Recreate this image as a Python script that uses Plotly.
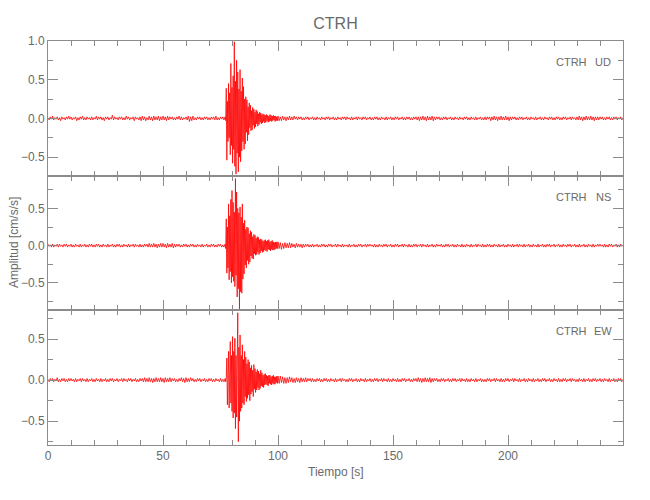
import plotly.graph_objects as go
from plotly.subplots import make_subplots

STATION = "CTRH"
COMPONENTS = ["UD", "NS", "EW"]
X_TITLE = "Tiempo [s]"
Y_TITLE = "Amplitud [cm/s/s]"
X_TICKS = [0, 50, 100, 150, 200]
X_RANGE = [0, 250]
Y_RANGES = {"UD": [-0.74, 1.0], "NS": [-0.87, 0.94], "EW": [-0.79, 0.85]}

# sampling (s) and segment start times
DT_NOISE = 0.5
DT_EVENT = 0.25
T_PRE = 0.0
T_EVENT = 77.0
T_POST = 100.0

# amplitudes, in hundredths of cm/s/s
UD_PRE = [
    1,-2,2,-1,3,-2,1,-1,2,-2,1,-3,2,-1,1,-2,2,-1,3,-1,
    2,-2,1,-1,2,-3,1,-2,2,-1,3,-2,1,-2,2,-1,1,-2,2,-2,
    1,-1,3,-2,2,-1,2,-2,1,-3,2,-1,2,-2,1,-1,4,-2,2,-1,
    1,-2,2,-1,2,-2,1,-2,3,-1,2,-2,1,-1,2,-3,2,-1,1,-2,
    2,-3,3,-2,2,-3,1,-2,3,-2,2,-3,3,-2,2,-2,3,-3,2,-2,
    3,-2,2,-3,3,-2,2,-1,2,-2,1,-2,2,-1,3,-2,2,-2,1,-1,
    2,-2,3,-4,2,-3,3,-2,1,-2,2,-1,2,-2,1,-2,2,-1,2,-2,
    1,-2,2,-1,2,-2,3,-2,1,-2,2,-1,2,-2,
]
UD_EVENT = [
    2,-3,39,-54, 22,-30,45,-25, 33,-47,71,-35, 40,-58,55,-40,
    99,-62,48,-72, 75,-45,60,-69, 38,-50,63,-56, 35,-42,52,-30,
    41,-40,25,-33, 28,-18,24,-29, 15,-21,20,-12, 17,-16,10,-15,
    14,-9,12,-13, 8,-11,11,-7, 9,-10,6,-8, 8,-5,7,-7,
    5,-6,6,-4, 5,-6,4,-5, 5,-3,4,-5, 3,-4,5,-3,
    4,-4,3,-3, 4,-2,3,-4, 3,-3,2,-3,
]
UD_POST = [
    3,-3,2,-3,3,-2,2,-3,2,-2,3,-2,2,-2,3,-1,2,-2,2,-1,
    2,-2,1,-2,2,-1,2,-2,1,-1,2,-2,1,-2,2,-1,1,-2,2,-1,
    1,-2,2,-1,2,-2,1,-1,2,-2,1,-2,2,-1,1,-2,2,-1,2,-2,
    2,-1,1,-2,2,-2,1,-1,2,-2,2,-1,1,-2,2,-1,2,-2,1,-1,
    2,-2,1,-2,2,-1,2,-2,1,-2,2,-1,1,-2,2,-2,1,-1,2,-2,
    1,-2,2,-1,2,-2,1,-1,2,-2,1,-2,2,-1,2,-2,1,-2,2,-1,
    2,-2,2,-3,2,-2,3,-2,2,-3,3,-2,2,-2,3,-3,2,-2,2,-1,
    2,-2,1,-2,2,-1,2,-2,1,-1,2,-2,1,-2,2,-1,1,-2,2,-1,
    1,-2,2,-1,2,-2,1,-2,2,-1,1,-2,2,-2,1,-1,2,-2,1,-2,
    2,-2,2,-1,2,-3,2,-2,3,-2,2,-3,2,-2,3,-2,2,-2,3,-2,
    2,-3,2,-2,2,-1,2,-2,1,-2,2,-1,2,-2,1,-1,2,-2,1,-2,
    2,-1,1,-2,2,-2,1,-1,2,-2,1,-2,2,-1,1,-2,2,-1,2,-2,
    1,-2,2,-1,2,-2,1,-2,2,-1,2,-2,1,-1,2,-2,2,-1,1,-2,
    2,-2,3,-2,2,-3,2,-2,3,-2,2,-2,3,-2,2,-3,2,-2,2,-2,
    2,-1,2,-2,1,-2,2,-1,2,-2,1,-2,2,-1,2,-2,1,-1,2,-2,
    1,
]

NS_PRE = [
    2,-1,1,-2,2,-2,1,-1,2,-2,2,-1,1,-2,2,-1,2,-2,1,-1,
    2,-2,1,-2,2,-1,1,-2,2,-2,1,-1,2,-2,1,-2,2,-1,2,-2,
    1,-2,2,-1,2,-2,1,-2,2,-1,1,-2,2,-2,1,-1,2,-2,1,-2,
    2,-1,2,-2,1,-2,2,-1,1,-2,2,-2,1,-1,2,-2,2,-1,1,-2,
    2,-2,1,-2,2,-1,2,-2,3,-2,2,-2,3,-2,2,-3,2,-2,3,-2,
    3,-2,2,-3,3,-2,2,-2,3,-3,2,-2,2,-1,2,-2,1,-2,2,-1,
    2,-2,1,-2,2,-1,2,-2,1,-2,2,-1,1,-2,2,-2,1,-1,2,-2,
    1,-2,2,-1,2,-2,1,-2,2,-1,2,-2,1,-2,
]
NS_EVENT = [
    2,-4,36,-37, 25,-30,56,-46, 40,-35,62,-50, 74,-42,58,-48,
    45,-55,90,-40, 72,-69,50,-58, 44,-85,52,-62, 38,-64,56,-45,
    30,-38,34,-26, 22,-30,25,-20, 24,-25,16,-22, 20,-14,18,-17,
    12,-18,15,-11, 14,-13,10,-12, 12,-9,11,-12, 8,-10,9,-7,
    8,-9,6,-8, 7,-6,8,-7, 6,-8,7,-5, 8,-6,5,-7,
    6,-5,7,-6, 5,-6,4,-5, 5,-4,5,-4,
]
NS_POST = [
    5,-4,4,-5,3,-4,4,-3,3,-3,4,-3,3,-2,2,-3,3,-2,2,-2,
    2,-3,2,-2,2,-1,2,-2,1,-2,2,-2,1,-1,2,-2,1,-2,2,-1,
    2,-2,1,-2,2,-1,2,-2,1,-1,2,-2,2,-1,1,-2,2,-2,1,-1,
    1,-2,2,-2,1,-1,2,-2,1,-2,2,-1,2,-2,1,-1,2,-2,2,-1,
    2,-1,1,-2,2,-2,1,-2,2,-1,1,-2,2,-1,2,-2,1,-1,2,-2,
    1,-2,2,-1,2,-2,1,-1,2,-2,2,-1,1,-2,2,-2,1,-2,2,-1,
    2,-2,1,-1,2,-2,2,-1,1,-2,2,-2,1,-1,2,-2,1,-2,2,-1,
    1,-1,2,-2,1,-2,2,-1,2,-2,1,-1,2,-2,1,-2,2,-1,1,-2,
    2,-2,1,-2,2,-1,1,-2,2,-2,1,-1,2,-2,2,-1,1,-2,2,-2,
    1,-2,2,-1,2,-2,1,-2,2,-1,1,-2,2,-2,1,-1,2,-2,1,-2,
    2,-1,1,-2,2,-2,1,-1,2,-2,2,-1,1,-2,2,-2,1,-1,2,-2,
    1,-2,2,-1,1,-2,2,-2,1,-1,2,-2,1,-2,2,-1,2,-2,1,-1,
    2,-2,1,-1,2,-2,1,-2,2,-1,1,-2,2,-1,2,-2,1,-1,2,-2,
    1,-2,2,-2,1,-1,2,-2,1,-2,2,-1,1,-2,2,-2,1,-1,2,-1,
    2,-1,1,-2,2,-2,1,-2,2,-1,2,-2,1,-1,2,-2,1,-2,2,-1,
    1,
]

EW_PRE = [
    1,-2,2,-1,2,-2,1,-1,3,-2,1,-2,2,-1,2,-2,1,-2,2,-1,
    2,-1,1,-2,2,-2,1,-1,2,-2,2,-1,1,-2,2,-2,1,-1,2,-2,
    1,-2,2,-1,1,-2,2,-2,1,-1,2,-2,1,-2,2,-1,2,-2,1,-1,
    2,-2,1,-1,2,-2,2,-1,1,-2,2,-1,2,-2,1,-1,2,-2,1,-2,
    2,-1,2,-2,3,-2,2,-2,3,-2,2,-3,2,-2,3,-2,2,-2,3,-2,
    2,-3,3,-2,2,-2,3,-2,2,-1,2,-2,1,-2,2,-1,3,-2,2,-3,
    3,-2,2,-2,3,-1,2,-2,1,-2,2,-1,2,-2,1,-1,2,-2,1,-2,
    2,-1,2,-2,1,-2,2,-1,1,-2,2,-2,1,-2,
]
EW_EVENT = [
    2,-2,3,27, -30,20,35,-34, 22,47,-28,30, -38,53,-46,35,
    -40,51,-59,30, -45,60,82,-75, 40,-50,55,-38, 30,-34,43,-28,
    25,-30,35,-20, 28,-26,20,-22, 25,-18,22,-25, 15,-17,18,-14,
    12,-20,19,-11, 14,-15,10,-12, 13,-9,11,-12, 8,-10,12,-7,
    9,-8,6,-9, 7,-6,8,-5, 6,-6,5,-7, 6,-4,6,-5,
    4,-6,5,-4, 6,-5,4,-5, 4,-3,5,-4,
]
EW_POST = [
    5,-4,5,-3,4,-4,3,-4,3,-3,4,-2,3,-3,2,-3,3,-2,2,-3,
    3,-2,2,-2,3,-2,2,-1,2,-2,2,-2,1,-2,2,-1,2,-2,1,-2,
    2,-1,2,-2,1,-2,2,-1,1,-2,2,-2,1,-1,2,-2,2,-1,1,-2,
    1,-2,2,-1,2,-2,1,-1,2,-2,1,-2,2,-1,1,-2,2,-2,1,-1,
    2,-2,1,-2,2,-1,2,-2,1,-1,2,-2,2,-1,1,-2,2,-2,1,-2,
    2,-1,1,-2,2,-2,1,-2,2,-1,2,-2,1,-1,2,-2,1,-2,2,-1,
    2,-2,3,-2,2,-3,2,-2,3,-2,2,-2,3,-3,2,-2,2,-1,2,-2,
    1,-2,2,-1,2,-2,1,-1,2,-2,1,-2,2,-1,2,-2,1,-1,2,-2,
    2,-1,1,-2,2,-2,1,-2,2,-1,1,-2,2,-2,1,-1,2,-2,1,-2,
    1,-2,2,-1,2,-2,1,-1,2,-2,2,-1,1,-2,2,-2,1,-2,2,-1,
    2,-2,1,-1,2,-2,2,-1,1,-2,2,-2,1,-1,2,-2,1,-2,2,-1,
    1,-2,2,-2,1,-1,2,-2,1,-2,2,-1,2,-2,1,-1,2,-2,1,-2,
    2,-1,1,-2,2,-2,1,-2,2,-1,2,-2,1,-1,2,-2,2,-1,1,-2,
    1,-2,2,-1,1,-2,2,-2,1,-1,2,-2,1,-2,2,-1,2,-2,1,-1,
    2,-2,1,-2,2,-1,1,-2,2,-2,1,-1,2,-2,1,-2,2,-1,2,-2,
    1,
]

TRACES = {
    "UD": (UD_PRE, UD_EVENT, UD_POST),
    "NS": (NS_PRE, NS_EVENT, NS_POST),
    "EW": (EW_PRE, EW_EVENT, EW_POST),
}


def build(pre, event, post):
    t, a = [], []
    for start, dt, seg in ((T_PRE, DT_NOISE, pre), (T_EVENT, DT_EVENT, event), (T_POST, DT_NOISE, post)):
        for i, v in enumerate(seg):
            t.append(start + i * dt)
            a.append(v / 100.0)
    return t, a


AXIS_COLOR = "#8c8c8c"
TEXT_COLOR = "#6a6a6a"
FONT = "Liberation Sans Narrow, Liberation Sans, Arial, sans-serif"

# page body adds an 8 px offset; figure is sized/margined to compensate
W, H = 642, 492
ML, MR, MT, MB = 40, 27, 33, 55
PW = W - ML - MR   # plot width in px
PH = H - MT - MB   # plot height in px

fig = make_subplots(rows=3, cols=1, shared_xaxes=True, vertical_spacing=0)

for i, comp in enumerate(COMPONENTS, start=1):
    t, a = build(*TRACES[comp])
    fig.add_trace(go.Scatter(x=t, y=a, mode="lines",
                             line=dict(color="#ff0000", width=0.8),
                             showlegend=False, hoverinfo="skip"), row=i, col=1)
    fig.update_yaxes(range=Y_RANGES[comp], row=i, col=1,
                     tick0=0, dtick=0.5, ticks="inside", ticklen=10,
                     tickcolor=AXIS_COLOR, showline=True, linecolor=AXIS_COLOR,
                     linewidth=1, mirror="allticks", showgrid=False, zeroline=False,
                     tickformat=".1f",
                     minor=dict(dtick=0.25, tick0=0, ticks="inside", ticklen=5,
                                tickcolor=AXIS_COLOR, showgrid=False),
                     tickfont=dict(family=FONT, size=12, color=TEXT_COLOR))
    fig.update_xaxes(range=X_RANGE, row=i, col=1,
                     tickvals=X_TICKS, ticks="inside", ticklen=10,
                     tickcolor=AXIS_COLOR, showline=True, linecolor=AXIS_COLOR,
                     linewidth=1, mirror="allticks", showgrid=False, zeroline=False,
                     minor=dict(dtick=10, tick0=0, ticks="inside", ticklen=5,
                                tickcolor=AXIS_COLOR, showgrid=False),
                     tickfont=dict(family=FONT, size=12, color=TEXT_COLOR))
    yref = "y domain" if i == 1 else f"y{i} domain"
    xref = "x domain" if i == 1 else f"x{i} domain"
    fig.add_annotation(text=STATION, xref=xref, yref=yref, x=(571.5 - 48) / PW, y=0.845,
                       xanchor="center", yanchor="middle", showarrow=False,
                       font=dict(family=FONT, size=11, color=TEXT_COLOR))
    fig.add_annotation(text=comp, xref=xref, yref=yref, x=(603 - 48) / PW, y=0.845,
                       xanchor="center", yanchor="middle", showarrow=False,
                       font=dict(family=FONT, size=11, color=TEXT_COLOR))

fig.add_annotation(text=Y_TITLE, xref="paper", yref="paper", x=(6 - ML) / PW, y=0.5,
                   xanchor="center", yanchor="middle", textangle=-90, showarrow=False,
                   font=dict(family=FONT, size=12, color=TEXT_COLOR))
fig.add_annotation(text=X_TITLE, xref="paper", yref="paper", x=0.5, y=-27 / PH,
                   xanchor="center", yanchor="middle", showarrow=False,
                   font=dict(family=FONT, size=12, color=TEXT_COLOR))

fig.update_layout(
    width=W, height=H,
    margin=dict(l=ML, r=MR, t=MT, b=MB),
    paper_bgcolor="white", plot_bgcolor="white",
    title=dict(text=STATION, x=(335.5 - 8) / W, xanchor="center",
               y=1 - 15 / H, yanchor="middle",
               font=dict(family=FONT, size=16, color=TEXT_COLOR)),
)

fig.write_html("out.html")
